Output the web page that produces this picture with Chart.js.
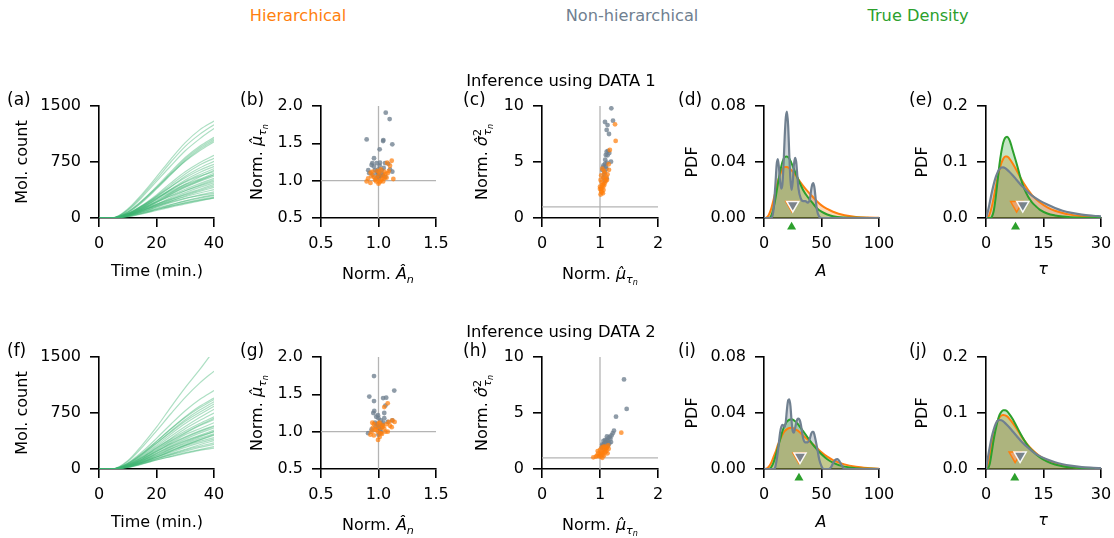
<!DOCTYPE html>
<html>
<head>
<meta charset="utf-8">
<script src="https://cdn.jsdelivr.net/npm/chart.js@4/dist/chart.umd.min.js"></script>
<style>
  body { margin: 0; background: #fff; width: 1114px; height: 538px; position: relative; overflow: hidden; font-family: "DejaVu Sans", sans-serif; }
  canvas { position: absolute; }
  .lbl { position: absolute; left: 0; top: 0; white-space: nowrap; line-height: normal; transform-origin: 0 0; color: #000; z-index: 5; }
  .s1 { font-size: 70%; position: relative; top: 0.35em; line-height: 0; }
  .s2 { font-size: 72%; position: relative; top: 0.3em; line-height: 0; }
  .sp { font-size: 70%; position: relative; top: -0.55em; line-height: 0; }
</style>
</head>
<body>
<script>
// ---- tick labels ----
const countTicks = ['0', '750', '1500'];
const timeTicks = ['0', '20', '40'];
const normATicks = ['0.5', '1.0', '1.5'];
const normMuTicks = ['0.5', '1.0', '1.5', '2.0'];
const normVarTicks = ['0', '5', '10'];
const normMuXTicks = ['0', '1', '2'];
const pdfATicks = ['0.00', '0.04', '0.08'];
const aTicks = ['0', '50', '100'];
const pdfTauTicks = ['0.0', '0.1', '0.2'];
const tauTicks = ['0', '15', '30'];

// ---- (a) / (f) trajectories, molecule counts at these times ----
const times = [0, 5, 10, 15, 20, 25, 30, 35, 40];
const traj1 = [
  [0, 3, 120, 320, 550, 790, 1010, 1180, 1300],
  [0, 2, 110, 300, 520, 750, 960, 1120, 1250],
  [0, 4, 100, 280, 490, 700, 900, 1060, 1200],
  [0, 2, 80, 230, 420, 620, 810, 960, 1080],
  [0, 1, 75, 220, 400, 600, 790, 940, 1060],
  [0, 2, 70, 210, 390, 580, 770, 920, 1040],
  [0, 3, 85, 235, 410, 590, 760, 900, 1020],
  [0, 1, 60, 170, 310, 470, 620, 740, 840],
  [0, 2, 55, 160, 295, 445, 590, 710, 800],
  [0, 1, 50, 150, 280, 420, 560, 670, 760],
  [0, 2, 60, 165, 290, 420, 540, 640, 720],
  [0, 1, 45, 135, 255, 385, 510, 610, 690],
  [0, 2, 50, 140, 255, 375, 490, 580, 660],
  [0, 1, 40, 120, 225, 340, 450, 550, 640],
  [0, 2, 55, 150, 260, 360, 450, 520, 600],
  [0, 1, 35, 110, 210, 320, 420, 500, 580],
  [0, 2, 45, 125, 220, 320, 410, 490, 560],
  [0, 1, 40, 115, 205, 300, 385, 460, 530],
  [0, 0, 30, 95, 180, 275, 365, 440, 510],
  [0, 2, 50, 130, 215, 295, 365, 430, 490],
  [0, 1, 35, 100, 180, 260, 340, 410, 470],
  [0, 1, 30, 90, 165, 245, 320, 385, 450],
  [0, 2, 45, 115, 185, 250, 310, 370, 430],
  [0, 0, 25, 80, 150, 225, 295, 355, 410],
  [0, 1, 40, 105, 170, 230, 285, 335, 380],
  [0, 1, 30, 85, 145, 205, 260, 310, 350],
  [0, 2, 40, 100, 160, 215, 265, 300, 330],
  [0, 0, 20, 65, 120, 175, 230, 275, 310],
  [0, 1, 30, 80, 130, 180, 225, 265, 300],
  [0, 0, 20, 60, 110, 160, 205, 245, 280],
  [0, 1, 25, 70, 115, 160, 200, 235, 265],
  [0, 0, 15, 55, 100, 145, 190, 230, 270],
  [0, 3, 60, 160, 270, 380, 480, 560, 620],
  [0, 1, 50, 140, 240, 340, 430, 510, 580]
];
const traj2 = [
  [0, 3, 110, 320, 560, 830, 1090, 1330, 1590],
  [0, 2, 100, 290, 510, 740, 960, 1150, 1310],
  [0, 2, 80, 230, 410, 600, 780, 930, 1050],
  [0, 1, 70, 205, 370, 540, 700, 840, 950],
  [0, 2, 75, 210, 370, 535, 690, 820, 930],
  [0, 1, 65, 190, 345, 505, 660, 790, 900],
  [0, 2, 70, 195, 345, 495, 640, 760, 870],
  [0, 1, 60, 175, 320, 470, 610, 730, 840],
  [0, 2, 55, 165, 300, 440, 570, 690, 800],
  [0, 1, 50, 150, 280, 410, 540, 650, 750],
  [0, 1, 55, 155, 280, 400, 510, 610, 700],
  [0, 2, 45, 135, 250, 370, 480, 580, 660],
  [0, 1, 40, 125, 235, 350, 460, 540, 620],
  [0, 2, 50, 135, 240, 340, 430, 510, 580],
  [0, 1, 35, 110, 210, 310, 400, 480, 550],
  [0, 1, 45, 120, 210, 300, 380, 450, 520],
  [0, 0, 30, 95, 180, 270, 355, 430, 500],
  [0, 2, 40, 110, 190, 270, 340, 410, 470],
  [0, 1, 35, 100, 175, 250, 320, 390, 450],
  [0, 0, 25, 85, 160, 235, 310, 370, 420],
  [0, 1, 35, 95, 160, 225, 290, 350, 400],
  [0, 1, 30, 85, 145, 205, 265, 325, 380],
  [0, 0, 22, 72, 135, 195, 255, 305, 350],
  [0, 1, 28, 78, 135, 190, 240, 290, 330],
  [0, 0, 20, 65, 120, 170, 220, 260, 300],
  [0, 1, 25, 70, 120, 165, 210, 250, 280],
  [0, 2, 55, 150, 265, 380, 490, 590, 680],
  [0, 1, 45, 130, 230, 330, 420, 500, 570],
  [0, 1, 38, 112, 200, 290, 370, 440, 500],
  [0, 0, 28, 88, 160, 240, 320, 390, 460]
];

// ---- (b) normalised A vs normalised mean tau, DATA 1 ----
const bGreyX = [1.063, 1.097, 0.897, 1.042, 1.04, 1.12, 1.01, 0.961, 0.946, 0.984, 1.013, 1.057, 1.085, 0.911, 0.97, 0.998, 1.028, 1.12, 0.92, 0.95, 0.99, 1.0, 1.02, 1.04, 1.06, 0.975, 1.005, 1.03, 0.96, 1.01, 0.985, 1.045, 1.1, 0.94, 1.0];
const bGreyY = [1.91, 1.825, 1.553, 1.544, 1.53, 1.487, 1.42, 1.30, 1.236, 1.236, 1.24, 1.236, 1.225, 1.14, 1.14, 1.15, 1.14, 1.12, 1.1, 1.08, 1.08, 1.1, 1.06, 1.07, 1.05, 1.03, 1.04, 1.09, 1.19, 1.2, 1.12, 1.17, 1.15, 1.21, 1.06];
const bOrangeX = [1.115, 1.075, 1.1, 0.932, 0.95, 1.05, 1.09, 1.02, 0.91, 0.897, 0.93, 0.98, 1.0, 1.01, 1.129, 1.04, 1.06, 0.96, 0.99, 1.03, 1.07, 1.0, 0.97, 1.02, 1.05, 0.94, 1.08, 0.99, 1.01, 1.04];
const bOrangeY = [1.267, 1.24, 1.20, 1.107, 1.12, 1.12, 1.13, 1.15, 1.03, 0.99, 0.97, 0.99, 0.96, 0.98, 1.022, 1.06, 1.09, 1.05, 1.03, 1.02, 1.04, 1.07, 1.01, 1.0, 1.03, 1.06, 1.1, 1.13, 1.11, 0.99];

// ---- (c) normalised mean tau vs normalised var tau, DATA 1 ----
const cGreyX = [1.195, 1.086, 1.224, 1.13, 1.115, 1.155, 1.115, 1.10, 1.14, 1.086, 1.06, 1.19, 1.04, 1.086, 1.115, 1.05, 1.12, 1.07, 1.09, 1.13, 1.08, 1.1, 1.16, 1.06, 1.11];
const cGreyY = [9.79, 8.57, 8.69, 8.3, 7.86, 7.5, 5.92, 5.63, 6.0, 4.82, 4.7, 5.03, 4.28, 4.1, 3.54, 4.5, 4.95, 3.9, 5.2, 5.6, 3.3, 4.6, 5.8, 3.6, 4.4];
const cOrangeX = [1.259, 1.27, 1.17, 1.155, 1.04, 1.02, 1.01, 1.03, 1.05, 1.07, 1.09, 1.0, 1.02, 1.04, 1.06, 1.08, 1.1, 1.12, 1.03, 1.05, 1.01, 1.0, 1.04, 1.06, 1.13, 1.08, 1.02, 1.15, 1.07, 1.11];
const cOrangeY = [8.36, 6.88, 6.07, 4.3, 4.4, 3.8, 3.4, 3.2, 3.0, 2.9, 3.5, 2.8, 2.6, 2.7, 2.5, 3.1, 3.3, 3.4, 2.3, 2.2, 2.1, 2.6, 2.9, 3.6, 3.9, 4.0, 2.4, 4.8, 4.2, 3.7];

// ---- (g) DATA 2 ----
const gGreyX = [0.961, 0.92, 0.961, 1.137, 1.067, 1.04, 1.06, 0.963, 0.955, 1.05, 0.91, 1.12, 0.98, 1.0, 1.02, 1.04, 0.99, 1.01, 1.03, 0.97, 1.0, 1.05, 0.995, 1.015, 0.975, 1.035, 1.08, 0.94, 1.0, 1.02];
const gGreyY = [1.745, 1.47, 1.41, 1.55, 1.455, 1.45, 1.35, 1.277, 1.25, 1.25, 0.98, 1.15, 1.2, 1.18, 1.15, 1.12, 1.1, 1.08, 1.06, 1.12, 1.05, 1.18, 1.22, 1.02, 1.07, 1.09, 1.13, 1.03, 0.96, 0.99];
const gOrangeX = [1.08, 1.05, 0.946, 1.14, 1.09, 1.115, 0.96, 1.0, 1.03, 0.93, 0.96, 0.996, 1.01, 1.06, 1.08, 0.98, 1.02, 1.04, 1.0, 0.95, 1.07, 1.1, 0.99, 1.03, 0.97, 1.05, 1.01, 1.12, 0.94, 1.02];
const gOrangeY = [1.38, 1.33, 1.12, 1.13, 1.13, 1.06, 1.1, 1.11, 1.09, 0.96, 0.95, 0.89, 0.93, 1.0, 1.0, 1.02, 1.05, 1.07, 0.99, 1.05, 1.1, 1.08, 1.06, 0.97, 1.03, 1.04, 1.12, 1.15, 1.0, 0.98];

// ---- (h) DATA 2 ----
const hGreyX = [1.414, 1.46, 1.276, 1.241, 1.22, 1.172, 1.15, 1.12, 1.1, 1.08, 1.05, 1.03, 1.13, 1.18, 1.2, 1.1, 1.07, 1.16, 1.12, 1.09, 1.04, 1.06, 1.14, 1.11, 1.19];
const hGreyY = [8.0, 5.36, 4.67, 3.42, 3.2, 2.89, 2.8, 2.6, 2.4, 2.3, 2.1, 1.9, 2.5, 2.7, 3.0, 2.0, 1.8, 2.3, 2.9, 2.6, 2.2, 2.5, 2.1, 1.9, 2.4];
const hOrangeX = [1.367, 1.086, 0.885, 0.95, 1.0, 1.02, 1.04, 1.06, 1.08, 1.1, 1.12, 1.14, 0.98, 1.01, 1.05, 1.09, 1.03, 0.93, 0.97, 1.07, 1.11, 1.0, 1.13, 1.15, 1.04, 0.96, 1.02, 1.06];
const hOrangeY = [3.24, 1.99, 1.04, 1.2, 1.3, 1.5, 1.4, 1.6, 1.7, 1.8, 1.9, 2.1, 1.15, 1.1, 1.3, 1.5, 1.9, 1.1, 1.4, 1.2, 1.6, 1.7, 1.4, 1.8, 1.0, 1.6, 1.25, 2.0];

// ---- (d) PDF of A, DATA 1 ----
const dTrueX = [0, 4, 6, 8, 10, 12, 14, 16, 18, 20, 22, 24, 26, 28, 30, 34, 38, 42, 46, 50, 55, 60, 70, 80, 100];
const dTrueY = [0, 0, 0.001, 0.006, 0.014, 0.024, 0.033, 0.040, 0.0435, 0.044, 0.0425, 0.039, 0.035, 0.031, 0.027, 0.020, 0.015, 0.011, 0.007, 0.0045, 0.0025, 0.0012, 0.0003, 0.0001, 0];
const dHierX = [0, 2, 4, 6, 8, 10, 12, 14, 16, 18, 20, 22, 24, 26, 28, 30, 34, 38, 42, 46, 50, 55, 60, 70, 80, 90, 100];
const dHierY = [0, 0.0003, 0.002, 0.006, 0.012, 0.019, 0.026, 0.031, 0.035, 0.0365, 0.0365, 0.0355, 0.034, 0.032, 0.030, 0.0275, 0.023, 0.019, 0.0155, 0.012, 0.009, 0.0065, 0.0045, 0.002, 0.0008, 0.0003, 0.0001];
const dNonX = [0, 6, 8, 10, 11, 12, 13, 14, 15, 16, 17, 18, 19, 20, 21, 22, 23, 24, 25, 26, 27, 28, 29, 30, 32, 34, 36, 38, 40, 41, 42, 43, 44, 45, 46, 48, 50, 100];
const dNonY = [0, 0, 0.004, 0.025, 0.038, 0.042, 0.036, 0.026, 0.021, 0.024, 0.038, 0.058, 0.072, 0.076, 0.066, 0.045, 0.027, 0.02, 0.026, 0.038, 0.043, 0.040, 0.030, 0.021, 0.014, 0.012, 0.012, 0.011, 0.014, 0.020, 0.024, 0.025, 0.021, 0.013, 0.006, 0.001, 0, 0];
const dMeans = [24.3, 25.0, 24.0]; // hierarchical, non-hierarchical, true

// ---- (e) PDF of tau, DATA 1 ----
const eTrueX = [0, 1, 1.5, 2, 2.5, 3, 3.5, 4, 4.5, 5, 5.5, 6, 6.5, 7, 8, 9, 10, 11, 12, 13, 14, 16, 18, 20, 22, 25, 30];
const eTrueY = [0, 0, 0.002, 0.012, 0.035, 0.065, 0.095, 0.118, 0.135, 0.143, 0.145, 0.141, 0.132, 0.12, 0.097, 0.072, 0.052, 0.038, 0.028, 0.021, 0.015, 0.008, 0.0045, 0.0025, 0.0014, 0.0006, 0.0001];
const eHierX = [0, 0.5, 1, 1.5, 2, 2.5, 3, 3.5, 4, 4.5, 5, 5.5, 6, 7, 8, 9, 10, 11, 12, 14, 16, 18, 20, 22, 25, 28, 30];
const eHierY = [0, 0.001, 0.008, 0.02, 0.036, 0.054, 0.071, 0.086, 0.098, 0.106, 0.11, 0.11, 0.107, 0.097, 0.085, 0.072, 0.060, 0.050, 0.041, 0.028, 0.019, 0.013, 0.009, 0.006, 0.003, 0.0015, 0.001];
const eNonX = [0, 0.5, 1, 1.5, 2, 2.5, 3, 3.5, 4, 4.5, 5, 6, 7, 8, 9, 10, 11, 12, 14, 16, 18, 20, 22, 25, 28, 30];
const eNonY = [0, 0.012, 0.028, 0.045, 0.06, 0.072, 0.081, 0.087, 0.09, 0.0905, 0.089, 0.083, 0.076, 0.068, 0.06, 0.053, 0.046, 0.040, 0.031, 0.024, 0.018, 0.013, 0.0095, 0.006, 0.004, 0.003];
const eMeans = [8.0, 9.6, 7.7];

// ---- (i) PDF of A, DATA 2 ----
const iTrueX = [0, 4, 6, 8, 10, 12, 14, 16, 18, 20, 22, 24, 26, 28, 30, 34, 38, 42, 46, 50, 55, 60, 65, 70, 80, 100];
const iTrueY = [0, 0, 0.001, 0.004, 0.009, 0.015, 0.021, 0.027, 0.031, 0.034, 0.0352, 0.0355, 0.0348, 0.0335, 0.0315, 0.027, 0.0225, 0.018, 0.014, 0.0105, 0.007, 0.0045, 0.0028, 0.0017, 0.0006, 0];
const iHierX = [0, 2, 4, 6, 8, 10, 12, 14, 16, 18, 20, 22, 24, 26, 28, 30, 34, 38, 42, 46, 50, 55, 60, 70, 80, 90, 100];
const iHierY = [0, 0.0002, 0.0015, 0.004, 0.008, 0.012, 0.017, 0.021, 0.0245, 0.027, 0.0285, 0.0293, 0.0295, 0.029, 0.028, 0.027, 0.024, 0.021, 0.018, 0.015, 0.012, 0.0088, 0.0064, 0.0033, 0.0016, 0.0007, 0.0002];
const iNonX = [0, 9, 10, 12, 14, 15, 16, 17, 18, 19, 20, 21, 22, 23, 24, 25, 26, 27, 28, 29, 30, 31, 32, 33, 34, 36, 38, 40, 41, 42, 43, 44, 46, 48, 50, 52, 56, 58, 60, 62, 64, 66, 68, 70, 100];
const iNonY = [0, 0, 0.002, 0.012, 0.026, 0.030, 0.0315, 0.031, 0.03, 0.034, 0.043, 0.049, 0.0498, 0.045, 0.034, 0.027, 0.026, 0.029, 0.033, 0.0355, 0.036, 0.035, 0.032, 0.027, 0.022, 0.019, 0.019, 0.022, 0.025, 0.0265, 0.0265, 0.024, 0.016, 0.007, 0.002, 0, 0, 0.001, 0.004, 0.0065, 0.007, 0.005, 0.002, 0, 0];
const iMeans = [30.5, 31.3, 30.4];

// ---- (j) PDF of tau, DATA 2 ----
const jTrueX = [0, 0.5, 1, 1.5, 2, 2.5, 3, 3.5, 4, 4.5, 5, 5.5, 6, 7, 8, 9, 10, 11, 12, 14, 16, 18, 20, 22, 25, 30];
const jTrueY = [0, 0.001, 0.01, 0.03, 0.052, 0.07, 0.085, 0.096, 0.102, 0.105, 0.105, 0.103, 0.099, 0.089, 0.076, 0.063, 0.051, 0.041, 0.033, 0.021, 0.013, 0.008, 0.005, 0.003, 0.0015, 0.0004];
const jHierX = [0, 0.5, 1, 1.5, 2, 2.5, 3, 3.5, 4, 4.5, 5, 5.5, 6, 7, 8, 9, 10, 11, 12, 14, 16, 18, 20, 22, 25, 30];
const jHierY = [0, 0.008, 0.025, 0.045, 0.062, 0.076, 0.086, 0.092, 0.0955, 0.0965, 0.0958, 0.094, 0.0905, 0.082, 0.072, 0.061, 0.051, 0.042, 0.035, 0.023, 0.015, 0.0095, 0.006, 0.004, 0.002, 0.0006];
const jNonX = [0, 0.5, 1, 1.5, 2, 2.5, 3, 3.5, 4, 4.5, 5, 6, 7, 8, 9, 10, 11, 12, 14, 16, 18, 20, 22, 25, 28, 30];
const jNonY = [0, 0.02, 0.04, 0.057, 0.07, 0.08, 0.086, 0.0875, 0.087, 0.085, 0.082, 0.075, 0.067, 0.059, 0.051, 0.044, 0.038, 0.032, 0.023, 0.017, 0.012, 0.0085, 0.006, 0.0035, 0.0022, 0.0015];
const jMeans = [7.6, 8.9, 7.5];

// ---- style ----
const ORANGE = '#ff7f0e', GREY = '#708090', GREEN = '#2ca02c';
const FS = 16;
Chart.defaults.font.family = 'DejaVu Sans';
Chart.defaults.font.size = FS;
Chart.defaults.color = '#000';

const rowTop = [106, 357], plotH = 112;
const colL = [99, 321, 542, 764, 986], colW = [115, 115, 116, 115, 115];
const PADL = 75, PADT = 26, PADR = 26, PADB = 45;

function axis(labels) {
  const vals = labels.map(Number);
  return {
    type: 'linear', min: vals[0], max: vals[vals.length - 1],
    afterBuildTicks: s => { s.ticks = vals.map(v => ({ value: v })); },
    ticks: { autoSkip: false, maxRotation: 0, minRotation: 0, padding: 8, color: '#000',
             callback: (v, i) => labels[i] },
    grid: { drawOnChartArea: false, drawTicks: true, tickLength: 9, color: '#000', lineWidth: 1.6 },
    border: { display: true, color: '#000', width: 1.6 }
  };
}

function panel(col, row, type, datasets, xLabels, yLabels) {
  const W = PADL + colW[col] + PADR, H = PADT + plotH + PADB;
  const c = document.createElement('canvas');
  c.width = W; c.height = H;
  c.style.left = (colL[col] - PADL) + 'px';
  c.style.top = (rowTop[row] - PADT) + 'px';
  c.style.width = W + 'px'; c.style.height = H + 'px';
  document.body.appendChild(c);
  const xs = axis(xLabels), ys = axis(yLabels);
  xs.ticks.padding = 7;
  ys.ticks.padding = 9;
  xs.afterFit = s => { s.height = PADB; };
  ys.afterFit = s => { s.width = PADL; };
  new Chart(c, {
    type: type,
    data: { datasets: datasets },
    options: {
      responsive: false, animation: false, devicePixelRatio: 1, events: [],
      layout: { padding: { left: 0, top: PADT, right: PADR, bottom: 0 } },
      plugins: { legend: { display: false }, tooltip: { enabled: false } },
      scales: { x: xs, y: ys }
    }
  });
}

const pts = (xs, ys) => xs.map((x, i) => ({ x: x, y: ys[i] }));

function trajSets(lines) {
  return lines.map(l => ({
    data: pts(times, l), borderColor: 'rgba(60,179,113,0.42)', borderWidth: 1.2,
    pointRadius: 0, fill: false, cubicInterpolationMode: 'monotone'
  }));
}

function scatterSets(gx, gy, ox, oy, xr, yr, refX, refY) {
  const dot = (col) => ({ pointRadius: 2.4, pointBackgroundColor: col, pointBorderWidth: 0, showLine: false });
  return [
    Object.assign({ data: pts(ox, oy) }, dot('rgba(255,127,14,0.72)')),
    Object.assign({ data: pts(gx, gy) }, dot('rgba(112,128,144,0.78)')),
    { data: [{ x: refX, y: yr[0] }, { x: refX, y: yr[1] }], showLine: true, borderColor: '#b4b4b4', borderWidth: 1.3, pointRadius: 0 },
    { data: [{ x: xr[0], y: refY }, { x: xr[1], y: refY }], showLine: true, borderColor: '#b4b4b4', borderWidth: 1.3, pointRadius: 0 }
  ];
}

function pdfSets(tx, ty, hx, hy, nx, ny, means, downY, upY) {
  const line = (d, col, w) => ({ data: d, borderColor: col, borderWidth: w, pointRadius: 0, fill: false, cubicInterpolationMode: 'monotone' });
  const area = (d, col) => ({ data: d, borderWidth: 0, borderColor: 'rgba(0,0,0,0)', backgroundColor: col, fill: 'origin', pointRadius: 0, cubicInterpolationMode: 'monotone' });
  const T = pts(tx, ty), Hh = pts(hx, hy), N = pts(nx, ny);
  return [
    { data: [{ x: means[2], y: upY }], showLine: false, pointStyle: 'triangle', rotation: 0, pointRadius: 5.2,
      pointBackgroundColor: GREEN, pointBorderColor: 'rgba(0,0,0,0)', pointBorderWidth: 4, clip: false },
    { data: [{ x: means[1], y: downY }], showLine: false, pointStyle: 'triangle', rotation: 180, pointRadius: 7,
      pointBackgroundColor: 'rgba(112,128,144,0.9)', pointBorderColor: 'rgba(255,255,255,0.95)', pointBorderWidth: 1.5, clip: false },
    { data: [{ x: means[0], y: downY }], showLine: false, pointStyle: 'triangle', rotation: 180, pointRadius: 7,
      pointBackgroundColor: 'rgba(255,160,110,0.7)', pointBorderColor: ORANGE, pointBorderWidth: 1.5, clip: false },
    line(N, GREY, 2.2),
    line(T, GREEN, 2),
    line(Hh, ORANGE, 2),
    area(T, 'rgba(44,160,44,0.28)'),
    area(Hh, 'rgba(255,127,14,0.3)'),
    area(N, 'rgba(112,128,144,0.32)')
  ];
}

// row 1: DATA 1
panel(0, 0, 'line', trajSets(traj1), timeTicks, countTicks);
panel(1, 0, 'scatter', scatterSets(bGreyX, bGreyY, bOrangeX, bOrangeY, [0.5, 1.5], [0.5, 2.0], 1, 1), normATicks, normMuTicks);
panel(2, 0, 'scatter', scatterSets(cGreyX, cGreyY, cOrangeX, cOrangeY, [0, 2], [0, 10], 1, 1), normMuXTicks, normVarTicks);
panel(3, 0, 'line', pdfSets(dTrueX, dTrueY, dHierX, dHierY, dNonX, dNonY, dMeans, 0.0093, -0.0064), aTicks, pdfATicks);
panel(4, 0, 'line', pdfSets(eTrueX, eTrueY, eHierX, eHierY, eNonX, eNonY, eMeans, 0.0232, -0.016), tauTicks, pdfTauTicks);
// row 2: DATA 2
panel(0, 1, 'line', trajSets(traj2), timeTicks, countTicks);
panel(1, 1, 'scatter', scatterSets(gGreyX, gGreyY, gOrangeX, gOrangeY, [0.5, 1.5], [0.5, 2.0], 1, 1), normATicks, normMuTicks);
panel(2, 1, 'scatter', scatterSets(hGreyX, hGreyY, hOrangeX, hOrangeY, [0, 2], [0, 10], 1, 1), normMuXTicks, normVarTicks);
panel(3, 1, 'line', pdfSets(iTrueX, iTrueY, iHierX, iHierY, iNonX, iNonY, iMeans, 0.0089, -0.0064), aTicks, pdfATicks);
panel(4, 1, 'line', pdfSets(jTrueX, jTrueY, jHierX, jHierY, jNonX, jNonY, jMeans, 0.0239, -0.016), tauTicks, pdfTauTicks);

// ---- text ----
function place(html, x, y, o) {
  o = o || {};
  const d = document.createElement('div');
  d.className = 'lbl';
  d.innerHTML = html;
  const fs = o.size || FS;
  d.style.fontSize = fs + 'px';
  if (o.color) d.style.color = o.color;
  const ax = o.align === 'left' ? '0%' : '-50%';
  d.style.transform = 'translate(' + x + 'px,' + y + 'px) rotate(' + (o.rot ? -90 : 0) + 'deg) translate(' + ax + ',' + (-0.928 * fs) + 'px)';
  document.body.appendChild(d);
}

const muTau = 'Norm. <i>μ̂</i><span class="s1"><i>τ</i><span class="s2"><i>n</i></span></span>';
const varTau = 'Norm. <i>σ̂</i><span class="sp">2</span><span class="s1" style="margin-left:-0.62em"><i>τ</i><span class="s2"><i>n</i></span></span>';
const normA = 'Norm. <i>Â</i><span class="s1"><i>n</i></span>';

place('Hierarchical', 298, 21, { color: ORANGE, size: 16.2 });
place('Non-hierarchical', 632, 21, { color: GREY, size: 16.2 });
place('True Density', 918, 21, { color: GREEN, size: 16.2 });

const letters = [['(a)', '(b)', '(c)', '(d)', '(e)'], ['(f)', '(g)', '(h)', '(i)', '(j)']];
const letterX = [7, 240, 463, 678, 909];
[0, 1].forEach(r => {
  const dy = 251 * r;
  place('Inference using DATA ' + (r + 1), 561, 86 + dy, { size: 16.4 });
  letters[r].forEach((t, k) => place(t, letterX[k], 105 + dy, { align: 'left', size: 17 }));
  const cy = rowTop[r] + plotH / 2;
  place('Mol. count', 27, cy, { rot: true });
  place(muTau, 262, cy, { rot: true });
  place(varTau, 487, cy, { rot: true });
  place('PDF', 697, cy, { rot: true });
  place('PDF', 927, cy, { rot: true });
  place('Time (min.)', 157, 276 + dy);
  place(normA, 378, 279 + dy);
  place(muTau, 600, 279 + dy);
  place('<i>A</i>', 821, 276 + dy);
  place('<i>τ</i>', 1043, 274 + dy);
});
</script>
</body>
</html>
